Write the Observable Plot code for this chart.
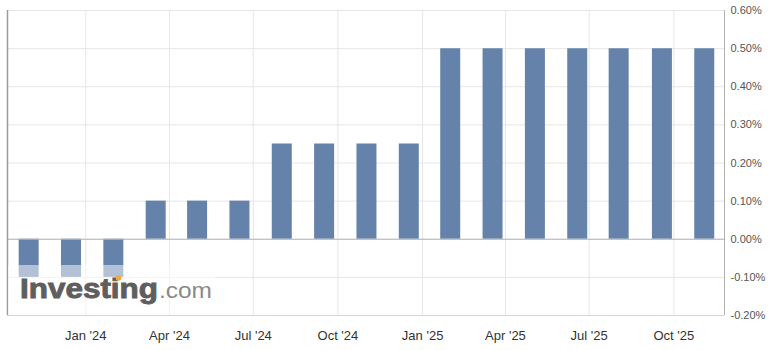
<!DOCTYPE html>
<html>
<head>
<meta charset="utf-8">
<script src="https://cdn.jsdelivr.net/npm/d3@7"></script>
<script src="https://cdn.jsdelivr.net/npm/@observablehq/plot@0.6"></script>
<style>
  html, body { margin: 0; padding: 0; background: #fff; }
  #wrap { position: relative; width: 773px; height: 350px; }
  #wm { position: absolute; left: 0; top: 0; pointer-events: none; }
</style>
</head>
<body>
<div id="wrap"></div>
<script>
// Decision dates and policy rate values (%)
const dates = [
  "2023-10-31", "2023-12-16", "2024-01-31", "2024-03-17", "2024-05-01", "2024-06-16",
  "2024-08-01", "2024-09-16", "2024-11-01", "2024-12-17", "2025-01-31", "2025-03-18",
  "2025-05-03", "2025-06-18", "2025-08-02", "2025-09-18", "2025-11-03"
];
const rates = [
  -0.10, -0.10, -0.10, 0.10, 0.10, 0.10,
  0.25, 0.25, 0.25, 0.25, 0.50, 0.50,
  0.50, 0.50, 0.50, 0.50, 0.50
];
const yTicks = [-0.2, -0.1, 0, 0.1, 0.2, 0.3, 0.4, 0.5, 0.6];
const xTicks = ["2024-01-01", "2024-04-01", "2024-07-01", "2024-10-01",
                "2025-01-01", "2025-04-01", "2025-07-01", "2025-10-01"];
const xDomain = ["2023-10-08", "2025-11-25"];

const data = dates.map((d, i) => ({date: new Date(d), rate: rates[i]}));
const xt = xTicks.map(d => new Date(d));
const xd = xDomain.map(d => new Date(d));
const fmtX = d3.utcFormat("%b '%y");

const chart = Plot.plot({
  width: 773,
  height: 350,
  marginLeft: 7,
  marginRight: 49,
  marginTop: 10,
  marginBottom: 35,
  x: {type: "utc", domain: xd},
  y: {domain: [-0.2, 0.6]},
  style: {fontFamily: "'Liberation Sans', Arial, sans-serif", background: "white", overflow: "visible"},
  marks: [
    Plot.gridY(yTicks, {stroke: "#e6e6e6", strokeOpacity: 1}),
    Plot.gridX(xt, {stroke: "#e6e6e6", strokeOpacity: 1}),
    Plot.ruleX(data, {x: "date", y1: 0, y2: "rate", stroke: "#6582ab", strokeWidth: 20}),
    Plot.ruleY([0], {stroke: "#b5b5b5"}),
    Plot.ruleY([yTicks[0]], {stroke: "#ccd6eb"}),
    Plot.ruleX([xd[0]], {stroke: "#9a9a9a", strokeWidth: 1.5}),
    Plot.ruleX([xd[1]], {stroke: "#b0b0b0"}),
    Plot.axisY(yTicks, {anchor: "right", tickSize: 0, tickPadding: 6,
      tickFormat: d => d.toFixed(2) + "%", fontSize: 11, fill: "#555", label: null}),
    Plot.axisX(xt, {anchor: "bottom", tickSize: 0, tickPadding: 15,
      tickFormat: fmtX, fontSize: 13, fill: "#333", label: null})
  ]
});

const wrap = document.getElementById("wrap");
wrap.appendChild(chart);

// Investing.com watermark overlay
const ns = "http://www.w3.org/2000/svg";
const wm = document.createElementNS(ns, "svg");
wm.setAttribute("id", "wm");
wm.setAttribute("width", 773);
wm.setAttribute("height", 350);
wm.innerHTML = `
  <rect x="8" y="265" width="207" height="49" fill="#fff" fill-opacity="0.5"></rect>
  <text x="20" y="298" font-family="'Liberation Sans', Arial, sans-serif" font-weight="bold"
        font-size="27" fill="#5e5e5e" stroke="#5e5e5e" stroke-width="0.9"
        textLength="138" lengthAdjust="spacingAndGlyphs">Investing</text>
  <text x="159" y="298" font-family="'Liberation Sans', Arial, sans-serif"
        font-size="22.5" fill="#8a8a8a" textLength="53" lengthAdjust="spacingAndGlyphs">.com</text>
  <circle cx="118.5" cy="278" r="2.8" fill="#f2a93b"></circle>
`;
wrap.appendChild(wm);
</script>
</body>
</html>
